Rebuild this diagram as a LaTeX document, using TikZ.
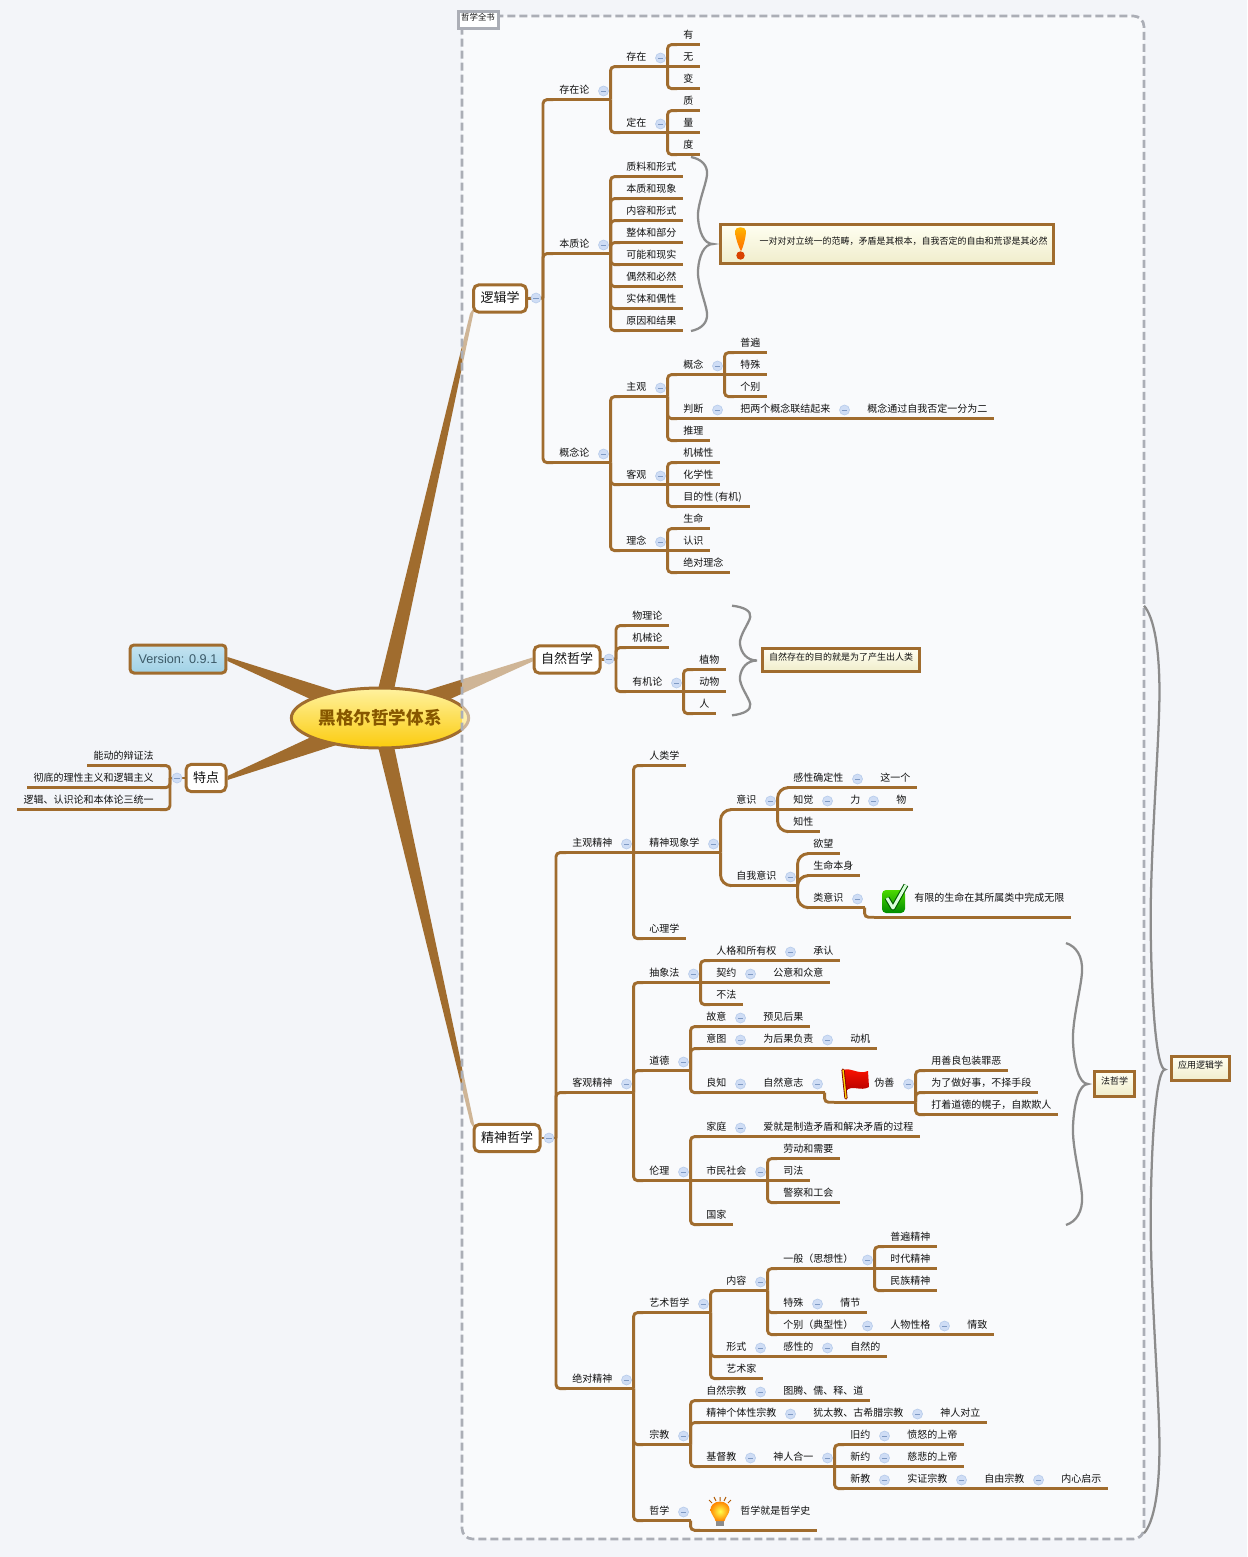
\documentclass[tikz,border=0pt]{standalone}
\usepackage{fontspec}
\setmainfont{Noto Sans CJK SC}
\newfontfamily\versionfont{Liberation Sans}
\usetikzlibrary{shapes.geometric}

\definecolor{canvasgray}{HTML}{F3F5F9}
\definecolor{branchcolor}{HTML}{A06C2E}
\definecolor{framegray}{HTML}{ABAEB6}
\definecolor{foldfill}{HTML}{CFDDF5}
\definecolor{foldedge}{HTML}{B9CDEB}
\definecolor{foldminus}{HTML}{7F9AC4}
\definecolor{bracegray}{HTML}{8C8C8C}
\definecolor{inktext}{HTML}{111111}
\definecolor{roottop}{HTML}{FFF2A0}
\definecolor{rootbottom}{HTML}{FBCB0C}
\definecolor{roottext}{HTML}{875700}
\definecolor{versiontop}{HTML}{C4E3F0}
\definecolor{versionbottom}{HTML}{A0D1E6}
\definecolor{versiontext}{HTML}{3C5A68}
\definecolor{notetop}{HTML}{FFFFF2}
\definecolor{notebottom}{HTML}{F0EDCB}

\pgfdeclarelayer{canvas}
\pgfdeclarelayer{under}
\pgfsetlayers{canvas,under,main}

\tikzset{every picture/.style={line width=0.75pt}}
\tikzset{
	branch/.style={draw=branchcolor,line width=2.2pt,rounded corners=3pt},
	curvebranch/.style={branch,rounded corners=8pt},
	taper/.style={fill=branchcolor},
	fold/.style={circle,draw=foldedge,fill=foldfill,line width=0.5pt,minimum size=7.5pt,inner sep=0pt,
		path picture={\draw[foldminus,line width=0.5pt] ([xshift=-2pt]path picture bounding box.center) -- ([xshift=2pt]path picture bounding box.center);}},
	topic/.style={anchor=west,inner xsep=4.5pt,inner ysep=0pt,minimum height=14pt,text height=6.6pt,text depth=0.9pt,
		font=\fontsize{7.5pt}{9pt}\selectfont,text=inktext,
		append after command={\pgfextra{\draw[branch] (\tikzlastnode.south west) -- (\tikzlastnode.south east);}}},
	parent/.style={topic,align=left,text width=#1*0.75pt-9pt,
		append after command={\pgfextra{\edef\foldname{\tikzlastnode-fold}\node[fold] (\foldname) at ([shift={(-7,1)}]\tikzlastnode.east) {};}}},
	tall/.style={minimum height=28.5pt},
	maintopic/.style={draw=branchcolor,fill=white,line width=2.25pt,rounded corners=4pt,inner xsep=5.25pt,inner ysep=0pt,
		minimum height=20.5pt,text height=7.5pt,text depth=1.5pt,font=\fontsize{9.75pt}{11pt}\selectfont,text=inktext},
	notebox/.style={draw=branchcolor,line width=2.25pt,top color=notetop,bottom color=notebottom,inner sep=0pt,
		text height=6.4pt,text depth=5.8pt,font=\fontsize{6.75pt}{8pt}\selectfont,text=inktext},
	sumline/.style={draw=bracegray,line width=1.7pt},
	frameline/.style={draw=framegray,line width=2pt,dash pattern=on 6pt off 3pt,rounded corners=8pt,fill=white,fill opacity=0.5},
	sumbrace/.pic={
		\draw[sumline] (0,-87) .. controls (10,-85) and (17,-79) .. (16,-69) .. controls (15,-59) and (6,-39) .. (7,-26) .. controls (8,-12) and (13,0) .. (22,0)
			.. controls (13,0) and (8,12) .. (7,26) .. controls (6,39) and (15,59) .. (16,69) .. controls (17,79) and (10,85) .. (0,87);
	},
}

\begin{document}
\begin{tikzpicture}[x=0.75pt,y=0.75pt,yscale=-1,xscale=1]
	\useasboundingbox (0,0) rectangle (1247,1557);

	\begin{pgfonlayer}{under}
	% Central topic
	\node[ellipse,draw=branchcolor,line width=2.25pt,top color=roottop,bottom color=rootbottom,minimum width=133pt,minimum height=45pt,inner sep=0pt,
		font=\fontsize{13.2pt}{15pt}\selectfont\bfseries,text=roottext] (root) at (380,718) {黑格尔哲学体系};
	% Boundary
	\draw[frameline] (462,16) rectangle (1144,1539);
	\end{pgfonlayer}

	% Boundary title
	\node[draw=framegray,fill=white,line width=2.25pt,minimum width=30pt,minimum height=12.5pt,inner sep=0pt,text height=6pt,text depth=5.7pt,
		font=\fontsize{6.3pt}{7pt}\selectfont,text=inktext] (wholebook) at (478,20) {哲学全书};

	% Main topics
	\node[maintopic] (logic) at (500,298.5) {逻辑学};
	\node[maintopic] (nature) at (567,659.5) {自然哲学};
	\node[maintopic] (spirit) at (507,1138) {精神哲学};
	\node[maintopic] (feature) at (206,778) {特点};
	\node[maintopic,top color=versiontop,bottom color=versionbottom,font=\fontsize{9.5pt}{11pt}\versionfont,text=versiontext,minimum height=21pt,inner xsep=6.5pt,rounded corners=3pt] (version) at (178,659) {Version: 0.9.1};

	% Forks
	\coordinate (logicfork) at (543,298);
	\coordinate (naturefork) at (616,659);
	\coordinate (spiritfork) at (556,1138);
	\coordinate (featurefork) at (170,778);

	% Text Node: logic
	\node[parent=57] (l1) at (553,90) {存在论};
	\node[parent=47] (l11) at (620,57) {存在};
	\node[topic] (l111) at (677,35) {有};
	\node[topic] (l112) at (677,57) {无};
	\node[topic] (l113) at (677,79) {变};
	\node[parent=47] (l12) at (620,123) {定在};
	\node[topic] (l121) at (677,101) {质};
	\node[topic] (l122) at (677,123) {量};
	\node[topic] (l123) at (677,145) {度};
	\node[parent=57] (l2) at (553,244) {本质论};
	\node[topic] (l21) at (620,167) {质料和形式};
	\node[topic] (l22) at (620,189) {本质和现象};
	\node[topic] (l23) at (620,211) {内容和形式};
	\node[topic] (l24) at (620,233) {整体和部分};
	\node[topic] (l25) at (620,255) {可能和现实};
	\node[topic] (l26) at (620,277) {偶然和必然};
	\node[topic] (l27) at (620,299) {实体和偶性};
	\node[topic] (l28) at (620,321) {原因和结果};
	\node[parent=57] (l3) at (553,453) {概念论};
	\node[parent=47] (l31) at (620,387) {主观};
	\node[parent=47] (l311) at (677,365) {概念};
	\node[topic] (l3111) at (734,343) {普遍};
	\node[topic] (l3112) at (734,365) {特殊};
	\node[topic] (l3113) at (734,387) {个别};
	\node[parent=47] (l312) at (677,409) {判断};
	\node[parent=117] (l3121) at (734,409) {把两个概念联结起来};
	\node[topic] (l3122) at (861,409) {概念通过自我否定一分为二};
	\node[topic] (l313) at (677,431) {推理};
	\node[parent=47] (l32) at (620,475) {客观};
	\node[topic] (l321) at (677,453) {机械性};
	\node[topic] (l322) at (677,475) {化学性};
	\node[topic] (l323) at (677,497) {目的性\,(有机)\,};
	\node[parent=47] (l33) at (620,541) {理念};
	\node[topic] (l331) at (677,519) {生命};
	\node[topic] (l332) at (677,541) {认识};
	\node[topic] (l333) at (677,563) {绝对理念};

	% Text Node: nature
	\node[topic] (n1) at (626,616) {物理论};
	\node[topic] (n2) at (626,638) {机械论};
	\node[parent=57] (n3) at (626,682) {有机论};
	\node[topic] (n31) at (693,660) {植物};
	\node[topic] (n32) at (693,682) {动物};
	\node[topic] (n33) at (693,704) {人};

	% Text Node: spirit, subjective
	\node[parent=67] (s1) at (566,843) {主观精神};
	\node[topic] (s11) at (643,756) {人类学};
	\node[parent=77] (s12) at (643,843) {精神现象学};
	\node[parent=47] (s121) at (730,800) {意识};
	\node[parent=77] (s1211) at (787,778) {感性确定性};
	\node[topic] (s12111) at (874,778) {这一个};
	\node[parent=47] (s1212) at (787,800) {知觉};
	\node[parent=36] (s12121) at (844,800) {力};
	\node[topic] (s121211) at (890,800) {物};
	\node[topic] (s1213) at (787,822) {知性};
	\node[parent=67] (s122) at (730,876) {自我意识};
	\node[topic] (s1221) at (807,844) {欲望};
	\node[topic] (s1222) at (807,866) {生命本身};
	\node[parent=57] (s1223) at (807,898) {类意识};
	\node[topic,tall] (s12231) at (874,898) {\hspace*{25.5pt}有限的生命在其所属类中完成无限};
	\node[topic] (s13) at (643,929) {心理学};

	% Text Node: spirit, objective
	\node[parent=67] (s2) at (566,1083) {客观精神};
	\node[parent=57] (s21) at (643,973) {抽象法};
	\node[parent=87] (s211) at (710,951) {人格和所有权};
	\node[topic] (s2111) at (807,951) {承认};
	\node[parent=47] (s212) at (710,973) {契约};
	\node[topic] (s2121) at (767,973) {公意和众意};
	\node[topic] (s213) at (710,995) {不法};
	\node[parent=47] (s22) at (643,1061) {道德};
	\node[parent=47] (s221) at (700,1017) {故意};
	\node[topic] (s2211) at (757,1017) {预见后果};
	\node[parent=47] (s222) at (700,1039) {意图};
	\node[parent=77] (s2221) at (757,1039) {为后果负责};
	\node[topic] (s22211) at (844,1039) {动机};
	\node[parent=47] (s223) at (700,1083) {良知};
	\node[parent=67] (s2231) at (757,1083) {自然意志};
	\node[parent=81,tall] (s22311) at (834,1083) {\hspace*{25.5pt}伪善};
	\node[topic] (s223111) at (925,1061) {用善良包装罪恶};
	\node[topic] (s223112) at (925,1083) {为了做好事，不择手段};
	\node[topic] (s223113) at (925,1105) {打着道德的幌子，自欺欺人};
	\node[parent=47] (s23) at (643,1171) {伦理};
	\node[parent=47] (s231) at (700,1127) {家庭};
	\node[topic] (s2311) at (757,1127) {爱就是制造矛盾和解决矛盾的过程};
	\node[parent=67] (s232) at (700,1171) {市民社会};
	\node[topic] (s2321) at (777,1149) {劳动和需要};
	\node[topic] (s2322) at (777,1171) {司法};
	\node[topic] (s2323) at (777,1193) {警察和工会};
	\node[topic] (s233) at (700,1215) {国家};

	% Text Node: spirit, absolute
	\node[parent=67] (s3) at (566,1379) {绝对精神};
	\node[parent=67] (s31) at (643,1303) {艺术哲学};
	\node[parent=47] (s311) at (720,1281) {内容};
	\node[parent=97] (s3111) at (777,1259) {一般（思想性）};
	\node[topic] (s31111) at (884,1237) {普遍精神};
	\node[topic] (s31112) at (884,1259) {时代精神};
	\node[topic] (s31113) at (884,1281) {民族精神};
	\node[parent=47] (s3112) at (777,1303) {特殊};
	\node[topic] (s31121) at (834,1303) {情节};
	\node[parent=97] (s3113) at (777,1325) {个别（典型性）};
	\node[parent=67] (s31131) at (884,1325) {人物性格};
	\node[topic] (s311311) at (961,1325) {情致};
	\node[parent=47] (s312) at (720,1347) {形式};
	\node[parent=57] (s3121) at (777,1347) {感性的};
	\node[topic] (s31211) at (844,1347) {自然的};
	\node[topic] (s313) at (720,1369) {艺术家};
	\node[parent=47] (s32) at (643,1435) {宗教};
	\node[parent=67] (s321) at (700,1391) {自然宗教};
	\node[topic] (s3211) at (777,1391) {图腾、儒、释、道};
	\node[parent=97] (s322) at (700,1413) {精神个体性宗教};
	\node[parent=117] (s3221) at (807,1413) {犹太教、古希腊宗教};
	\node[topic] (s32211) at (934,1413) {神人对立};
	\node[parent=57] (s323) at (700,1457) {基督教};
	\node[parent=67] (s3231) at (767,1457) {神人合一};
	\node[parent=47] (s32311) at (844,1435) {旧约};
	\node[topic] (s323111) at (901,1435) {愤怒的上帝};
	\node[parent=47] (s32312) at (844,1457) {新约};
	\node[topic] (s323121) at (901,1457) {慈悲的上帝};
	\node[parent=47] (s32313) at (844,1479) {新教};
	\node[parent=67] (s323131) at (901,1479) {实证宗教};
	\node[parent=67] (s3231311) at (978,1479) {自由宗教};
	\node[topic] (s32313111) at (1055,1479) {内心启示};
	\node[parent=47] (s33) at (643,1511) {哲学};
	\node[topic,tall] (s331) at (700,1511) {\hspace*{25.5pt}哲学就是哲学史};

	% Text Node: features
	\node[topic,anchor=east] (f1) at (160,756) {能动的辩证法};
	\node[topic,anchor=east] (f2) at (160,778) {彻底的理性主义和逻辑主义};
	\node[topic,anchor=east] (f3) at (160,800) {逻辑、认识论和本体论三统一};

	% Notes
	\node[notebox,minimum width=250pt,minimum height=29.5pt] (note1) at (887,244) {\hspace*{24.75pt}一对对对立统一的范畴，矛盾是其根本，自我否定的自由和荒谬是其必然};
	\node[notebox,minimum width=117.5pt,minimum height=17pt] (note2) at (841,660) {自然存在的目的就是为了产生出人类};
	\node[notebox,minimum width=30pt,minimum height=18.5pt] (note3) at (1114.5,1084) {法哲学};
	\node[notebox,minimum width=43.5pt,minimum height=18pt] (note4) at (1200.5,1068.5) {应用逻辑学};

	% Summary braces
	\pic[xscale=1,yscale=1] (brace1) at (691,244) {sumbrace};
	\pic[xscale=1.14,yscale=0.63] (brace2) at (732,660.5) {sumbrace};
	\pic[xscale=1,yscale=1.62] (brace3) at (1066,1084) {sumbrace};
	\pic[xscale=0.96,yscale=5.33] (brace4) at (1144,1069.5) {sumbrace};

	% Straight Lines: to the forks
	\draw[branch] (logic.east) -- (logicfork);
	\draw[branch] (nature.east) -- (naturefork);
	\draw[branch] (spirit.east) -- (spiritfork);
	\draw[branch] (feature.west) -- (featurefork);
	\node[fold] (logic-fold) at (536,298) {};
	\node[fold] (nature-fold) at (609,659) {};
	\node[fold] (spirit-fold) at (549,1138) {};
	\node[fold] (feature-fold) at (177,778) {};

	% Straight Lines: logic
	\draw[branch] (logicfork) |- (l1.south west);
	\draw[branch] (logicfork) |- (l2.south west);
	\draw[branch] (logicfork) |- (l3.south west);
	\draw[branch] (l1.south east) |- (l11.south west);
	\draw[branch] (l1.south east) |- (l12.south west);
	\draw[branch] (l11.south east) |- (l111.south west);
	\draw[branch] (l11.south east) -- (l112.south west);
	\draw[branch] (l11.south east) |- (l113.south west);
	\draw[branch] (l12.south east) |- (l121.south west);
	\draw[branch] (l12.south east) -- (l122.south west);
	\draw[branch] (l12.south east) |- (l123.south west);
	\draw[branch] (l2.south east) |- (l21.south west);
	\draw[branch] (l2.south east) |- (l22.south west);
	\draw[branch] (l2.south east) |- (l23.south west);
	\draw[branch] (l2.south east) |- (l24.south west);
	\draw[branch] (l2.south east) |- (l25.south west);
	\draw[branch] (l2.south east) |- (l26.south west);
	\draw[branch] (l2.south east) |- (l27.south west);
	\draw[branch] (l2.south east) |- (l28.south west);
	\draw[branch] (l3.south east) |- (l31.south west);
	\draw[branch] (l3.south east) |- (l32.south west);
	\draw[branch] (l3.south east) |- (l33.south west);
	\draw[branch] (l31.south east) |- (l311.south west);
	\draw[branch] (l31.south east) |- (l312.south west);
	\draw[branch] (l31.south east) |- (l313.south west);
	\draw[branch] (l311.south east) |- (l3111.south west);
	\draw[branch] (l311.south east) -- (l3112.south west);
	\draw[branch] (l311.south east) |- (l3113.south west);
	\draw[branch] (l312.south east) -- (l3121.south west);
	\draw[branch] (l3121.south east) -- (l3122.south west);
	\draw[branch] (l32.south east) |- (l321.south west);
	\draw[branch] (l32.south east) -- (l322.south west);
	\draw[branch] (l32.south east) |- (l323.south west);
	\draw[branch] (l33.south east) |- (l331.south west);
	\draw[branch] (l33.south east) -- (l332.south west);
	\draw[branch] (l33.south east) |- (l333.south west);

	% Straight Lines: nature
	\draw[branch] (naturefork) |- (n1.south west);
	\draw[branch] (naturefork) |- (n2.south west);
	\draw[branch] (naturefork) |- (n3.south west);
	\draw[branch] (n3.south east) |- (n31.south west);
	\draw[branch] (n3.south east) -- (n32.south west);
	\draw[branch] (n3.south east) |- (n33.south west);

	% Straight Lines: spirit, subjective
	\draw[branch] (spiritfork) |- (s1.south west);
	\draw[branch] (spiritfork) |- (s2.south west);
	\draw[branch] (spiritfork) |- (s3.south west);
	\draw[branch] (s1.south east) |- (s11.south west);
	\draw[branch] (s1.south east) -- (s12.south west);
	\draw[branch] (s1.south east) |- (s13.south west);
	\draw[curvebranch] (s12.south east) |- (s121.south west);
	\draw[curvebranch] (s12.south east) |- (s122.south west);
	\draw[curvebranch] (s121.south east) |- (s1211.south west);
	\draw[branch] (s121.south east) -- (s1212.south west);
	\draw[curvebranch] (s121.south east) |- (s1213.south west);
	\draw[branch] (s1211.south east) -- (s12111.south west);
	\draw[branch] (s1212.south east) -- (s12121.south west);
	\draw[branch] (s12121.south east) -- (s121211.south west);
	\draw[curvebranch] (s122.south east) |- (s1221.south west);
	\draw[curvebranch] (s122.south east) |- (s1222.south west);
	\draw[curvebranch] (s122.south east) |- (s1223.south west);
	\draw[branch] (s1223.south east) |- (s12231.south west);

	% Straight Lines: spirit, objective
	\draw[branch] (s2.south east) |- (s21.south west);
	\draw[branch] (s2.south east) |- (s22.south west);
	\draw[branch] (s2.south east) |- (s23.south west);
	\draw[branch] (s21.south east) |- (s211.south west);
	\draw[branch] (s21.south east) -- (s212.south west);
	\draw[branch] (s21.south east) |- (s213.south west);
	\draw[branch] (s211.south east) -- (s2111.south west);
	\draw[branch] (s212.south east) -- (s2121.south west);
	\draw[branch] (s22.south east) |- (s221.south west);
	\draw[branch] (s22.south east) |- (s222.south west);
	\draw[branch] (s22.south east) |- (s223.south west);
	\draw[branch] (s221.south east) -- (s2211.south west);
	\draw[branch] (s222.south east) -- (s2221.south west);
	\draw[branch] (s2221.south east) -- (s22211.south west);
	\draw[branch] (s223.south east) -- (s2231.south west);
	\draw[branch] (s2231.south east) |- (s22311.south west);
	\draw[branch] (s22311.south east) |- (s223111.south west);
	\draw[branch] (s22311.south east) |- (s223112.south west);
	\draw[branch] (s22311.south east) |- (s223113.south west);
	\draw[branch] (s23.south east) |- (s231.south west);
	\draw[branch] (s23.south east) -- (s232.south west);
	\draw[branch] (s23.south east) |- (s233.south west);
	\draw[branch] (s231.south east) -- (s2311.south west);
	\draw[branch] (s232.south east) |- (s2321.south west);
	\draw[branch] (s232.south east) -- (s2322.south west);
	\draw[branch] (s232.south east) |- (s2323.south west);

	% Straight Lines: spirit, absolute
	\draw[branch] (s3.south east) |- (s31.south west);
	\draw[branch] (s3.south east) |- (s32.south west);
	\draw[branch] (s3.south east) |- (s33.south west);
	\draw[branch] (s31.south east) |- (s311.south west);
	\draw[branch] (s31.south east) |- (s312.south west);
	\draw[branch] (s31.south east) |- (s313.south west);
	\draw[branch] (s311.south east) |- (s3111.south west);
	\draw[branch] (s311.south east) |- (s3112.south west);
	\draw[branch] (s311.south east) |- (s3113.south west);
	\draw[branch] (s3111.south east) |- (s31111.south west);
	\draw[branch] (s3111.south east) -- (s31112.south west);
	\draw[branch] (s3111.south east) |- (s31113.south west);
	\draw[branch] (s3112.south east) -- (s31121.south west);
	\draw[branch] (s3113.south east) -- (s31131.south west);
	\draw[branch] (s31131.south east) -- (s311311.south west);
	\draw[branch] (s312.south east) -- (s3121.south west);
	\draw[branch] (s3121.south east) -- (s31211.south west);
	\draw[branch] (s32.south east) |- (s321.south west);
	\draw[branch] (s32.south east) |- (s322.south west);
	\draw[branch] (s32.south east) |- (s323.south west);
	\draw[branch] (s321.south east) -- (s3211.south west);
	\draw[branch] (s322.south east) -- (s3221.south west);
	\draw[branch] (s3221.south east) -- (s32211.south west);
	\draw[branch] (s323.south east) -- (s3231.south west);
	\draw[branch] (s3231.south east) |- (s32311.south west);
	\draw[branch] (s3231.south east) -- (s32312.south west);
	\draw[branch] (s3231.south east) |- (s32313.south west);
	\draw[branch] (s32311.south east) -- (s323111.south west);
	\draw[branch] (s32312.south east) -- (s323121.south west);
	\draw[branch] (s32313.south east) -- (s323131.south west);
	\draw[branch] (s323131.south east) -- (s3231311.south west);
	\draw[branch] (s3231311.south east) -- (s32313111.south west);
	\draw[branch] (s33.south east) |- (s331.south west);

	% Straight Lines: features
	\draw[branch] (featurefork) |- (f1.south east);
	\draw[branch] (featurefork) |- (f2.south east);
	\draw[branch] (featurefork) |- (f3.south east);

	% Icon: exclamation
	\shade[top color=orange!55!yellow,bottom color=orange!85!red] (735,231) .. controls (735,226) and (746,226) .. (746,231) .. controls (746,237) and (743,248) .. (741,251) .. controls (739,248) and (735,237) .. (735,231) -- cycle;
	\fill[orange!60!red!85!black] (740.5,255.5) circle (4.2);
	% Icon: check
	\shade[top color=green!65!yellow!85!black,bottom color=green!55!black,rounded corners=3pt] (882,890) rectangle (905,913);
	\draw[green!35!black,line width=3.8pt,line join=round] (887,898) -- (893,908) -- (906,885);
	\draw[white!85!green,line width=2.2pt,line join=round] (887,898) -- (893,908) -- (906,885);
	% Icon: flag
	\shade[top color=red!85!orange,bottom color=red!70!black] (843,1070) .. controls (851,1067) and (858,1075) .. (868,1071) -- (869,1087) .. controls (860,1092) and (852,1084) .. (846,1091) -- cycle;
	\draw[red!50!black,line width=2.4pt,line cap=round] (843,1070) -- (846,1098);
	\draw[yellow!70!orange,line width=1.1pt,line cap=round] (843,1070) -- (846,1098);
	% Icon: bulb
	\draw[orange!70!black,line width=0.75pt] (720,1501) -- (720,1497) (716,1501) -- (714,1497) (724,1501) -- (726,1497) (712,1503) -- (709,1500) (728,1503) -- (731,1500);
	\fill[black!45] (716,1519) rectangle (724,1526);
	\shade[inner color=yellow!70,outer color=orange!95!yellow] (720,1501.5) .. controls (726,1501.5) and (730,1506) .. (729.5,1510) .. controls (729,1514) and (725.5,1517) .. (724.5,1521) -- (715.5,1521) .. controls (714.5,1517) and (711,1514) .. (710.5,1510) .. controls (710,1506) and (714,1501.5) .. (720,1501.5) -- cycle;

	% Tapered branches
	\begin{pgfonlayer}{canvas}
	\fill[canvasgray] (0,0) rectangle (1247,1557);
	\fill[taper] ([shift={(-9,0)}]root.center) -- ([shift={(-2,0)}]logic.south west) -- ([shift={(3,-8)}]logic.south west) -- ([shift={(8,0)}]root.center) -- cycle;
	\fill[taper] ([shift={(-9,0)}]root.center) -- ([shift={(-2,0)}]spirit.north west) -- ([shift={(3,8)}]spirit.north west) -- ([shift={(8,0)}]root.center) -- cycle;
	\fill[taper] ([shift={(0,-13)}]root.center) -- ([shift={(0,-2)}]nature.west) -- ([shift={(0,2)}]nature.west) -- ([shift={(0,13)}]root.center) -- cycle;
	\fill[taper] ([shift={(0,-13)}]root.center) -- ([shift={(0,-2)}]version.east) -- ([shift={(0,2)}]version.east) -- ([shift={(0,13)}]root.center) -- cycle;
	\fill[taper] ([shift={(0,-13)}]root.center) -- ([shift={(0,-2)}]feature.east) -- ([shift={(0,2)}]feature.east) -- ([shift={(0,13)}]root.center) -- cycle;
	\end{pgfonlayer}

\end{tikzpicture}
\end{document}
